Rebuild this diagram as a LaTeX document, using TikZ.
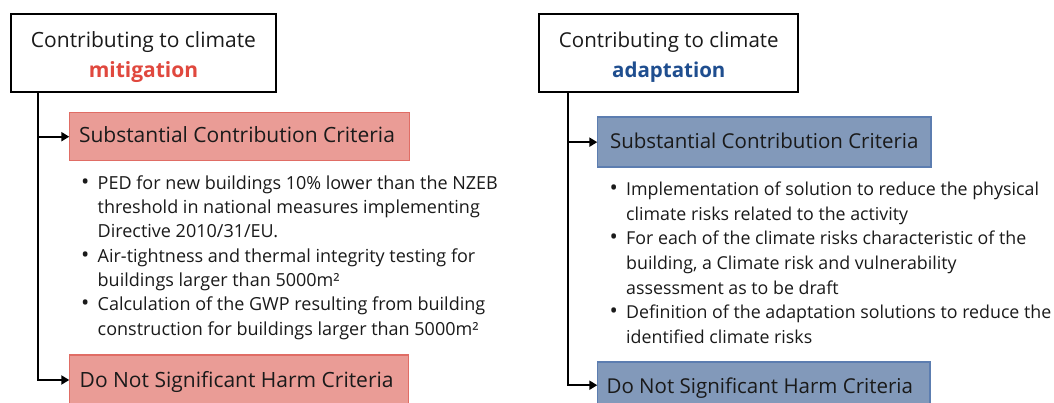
\documentclass[tikz,border=0pt]{standalone}
\usepackage{fontspec}
\setmainfont{Open Sans}
\usetikzlibrary{arrows.meta,calc}
\definecolor{mitred}{HTML}{E0483E}
\definecolor{adablue}{HTML}{1F4E8F}
\definecolor{lfill}{HTML}{EA9C96}
\definecolor{ldraw}{HTML}{E06D65}
\definecolor{rfill}{HTML}{8299BA}
\definecolor{rdraw}{HTML}{5C7DB0}
\definecolor{txt}{HTML}{1A1A1A}
\newcommand\bul{\makebox[15.7pt][l]{\hspace{-0.8pt}{\fontsize{22}{22}\selectfont •}}}
\newcommand\ind{\hspace*{15.7pt}}
\newcommand\lbox[2]{\makebox[#1][l]{#2}}
\begin{document}
\begin{tikzpicture}[x=1pt,y=-1pt,
  titlebox/.style={draw=black, line width=2pt, fill=white, inner sep=0pt, outer sep=0pt, text=txt},
  crit/.style={line width=1.6pt, anchor=north west, inner ysep=0pt, outer sep=0pt, text=txt},
  lcrit/.style={crit, fill=lfill, draw=ldraw, font=\fontsize{21}{25}\selectfont},
  rcrit/.style={crit, fill=rfill, draw=rdraw, font=\fontsize{20.5}{25}\selectfont},
  bullets/.style={anchor=base west, inner sep=0pt, outer sep=0pt, text=txt},
  conn/.style={line width=2pt, -{Triangle[length=8pt,width=9pt]}}
]
\useasboundingbox (0,0) rectangle (1054,403);
\clip (0,0) rectangle (1054,403);
\fill[white] (0,0) rectangle (1054,403);

% ---------- left column ----------
\node[titlebox, font=\fontsize{21}{30}\selectfont, minimum width=265pt, minimum height=78.3pt, text height=18pt, text depth=28.4pt]
  (ltitle) at (143.5,53.15)
  {\parbox[t]{250pt}{\centering Contributing to climate\\ \textbf{\color{mitred}mitigation}}};
\coordinate (lstem) at ($(ltitle.south west)+(26.7,0)$);

\node[lcrit, inner xsep=9.7pt, minimum height=48pt, text height=17pt, text depth=5.4pt]
  (lscc) at (69.3,112.7) {\lbox{320.6pt}{Substantial Contribution Criteria}};

\node[bullets] (lbul) at (82,189.3) {\parbox[t]{470pt}{\fontsize{18}{24.3}\selectfont
\bul PED for new buildings 10\% lower than the NZEB\\
\ind threshold in national measures implementing\\
\ind Directive 2010/31/EU.\\
\bul Air-tightness and thermal integrity testing for\\
\ind buildings larger than 5000m²\\
\bul Calculation of the GWP resulting from building\\
\ind construction for buildings larger than 5000m²}};

\node[lcrit, inner xsep=10.4pt, minimum height=50pt, text height=16pt, text depth=1.4pt]
  (ldnsh) at (69.3,355) {\lbox{318.2pt}{Do Not Significant Harm Criteria}};

\draw[conn] (lstem) |- (lscc.west);
\draw[conn] (lstem) |- (ldnsh.west);

% ---------- right column ----------
\node[titlebox, font=\fontsize{20.5}{30}\selectfont, minimum width=259pt, minimum height=78.3pt, text height=18pt, text depth=28.4pt]
  (rtitle) at (668.8,53.15)
  {\parbox[t]{250pt}{\centering Contributing to climate\\ \textbf{\color{adablue}adaptation}}};
\coordinate (rstem) at ($(rtitle.south west)+(29,0)$);

\node[rcrit, inner xsep=12.7pt, minimum height=50.3pt, text height=16pt, text depth=3.7pt]
  (rscc) at (597.3,117) {\lbox{308pt}{Substantial Contribution Criteria}};

\node[bullets] (rbul) at (610.5,195.7) {\parbox[t]{470pt}{\fontsize{17.8}{24.6}\selectfont
\bul Implementation of solution to reduce the physical\\
\ind climate risks related to the activity\\
\bul For each of the climate risks characteristic of the\\
\ind building, a Climate risk and vulnerability\\
\ind assessment as to be draft\\
\bul Definition of the adaptation solutions to reduce the\\
\ind identified climate risks}};

\node[rcrit, inner xsep=9.3pt, minimum height=47pt, text height=17pt, text depth=0.8pt]
  (rdnsh) at (597.3,361.7) {\lbox{313.9pt}{Do Not Significant Harm Criteria}};

\draw[conn] (rstem) |- (rscc.west);
\draw[conn] (rstem) |- (rdnsh.west);
\end{tikzpicture}
\end{document}
